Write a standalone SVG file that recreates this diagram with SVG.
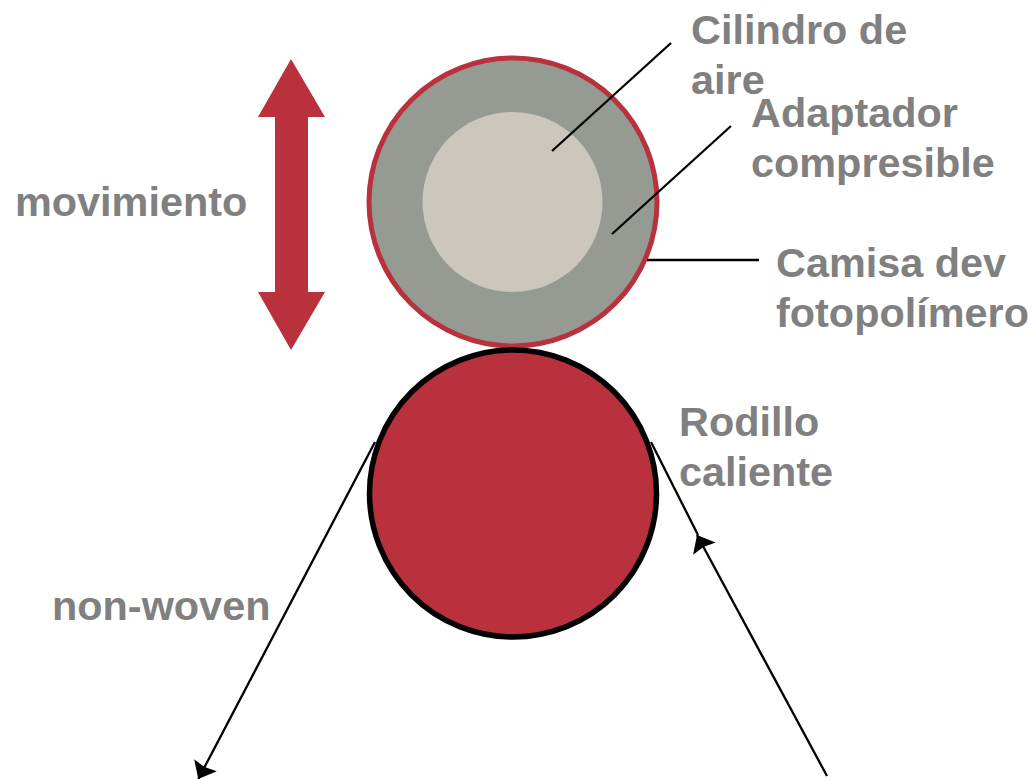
<svg xmlns="http://www.w3.org/2000/svg" width="1033" height="779" viewBox="0 0 1033 779">
<style>
text{font-family:"Liberation Sans",Arial,sans-serif;font-weight:700;font-size:41.4px;fill:#808080}
.l{stroke:#000;stroke-width:2.3;fill:none}
</style>
<defs><marker id="a" markerUnits="userSpaceOnUse" markerWidth="18" markerHeight="28" refX="16" refY="14" orient="auto" overflow="visible"><path d="M0.5 1.2L16 14L0.5 26.8L2.5 14Z" fill="#000"/></marker></defs>
<rect width="1033" height="779" fill="#fff"/>
<g id="arrow-movimiento"><path d="M291 59L325 117H308V292H325L291 350L258 292H275V117H258Z" fill="#b9313c"/></g>
<g id="camisa"><circle cx="513" cy="202" r="144" fill="#959b92" stroke="#b9313c" stroke-width="5"/></g>
<g id="cilindro"><circle cx="512.500" cy="202" r="90" fill="#cbc7bd"/></g>
<g id="rodillo"><circle cx="513" cy="493.500" r="143.500" fill="#b9313c" stroke="#000" stroke-width="5.500"/></g>
<g id="connectors">
<path class="l" d="M671 43L552 151"/>
<path class="l" d="M731 126L612 234"/>
<path class="l" d="M647 260H759"/>
<path class="l" d="M375 442L198.300 779" marker-end="url(#a)"/>
<path class="l" d="M651 442L698 535"/>
<path class="l" d="M827 776L697 535" marker-end="url(#a)"/>
</g>
<g id="labels">
<text x="691" y="43.500">Cilindro de</text>
<text x="691" y="93.500">aire</text>
<text x="751" y="126.500">Adaptador</text>
<text x="751" y="176.500">compresible</text>
<text x="776" y="276.500">Camisa dev</text>
<text x="776" y="326.500">fotopolímero</text>
<text x="15" y="215.500">movimiento</text>
<text x="679" y="435.500">Rodillo</text>
<text x="679" y="485.500">caliente</text>
<text x="52" y="619.500">non-woven</text>
</g>
</svg>
